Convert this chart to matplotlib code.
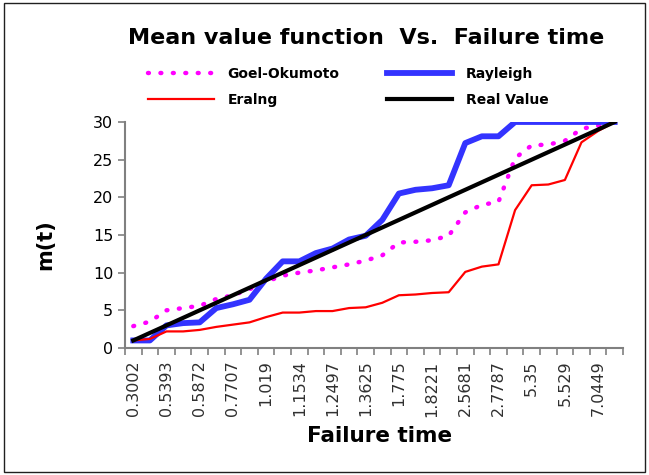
import matplotlib
matplotlib.use('Agg')
import matplotlib.pyplot as plt
from matplotlib.patches import Rectangle

failure_time = ['0.3002', '', '0.5393', '', '0.5872', '', '0.7707', '', '1.019', '',
                '1.1534', '', '1.2497', '', '1.3625', '', '1.775', '', '1.8221', '',
                '2.5681', '', '2.7787', '', '5.35', '', '5.529', '', '7.0449', '']

goel_okumoto = [2.9, 3.5, 5.0, 5.3, 5.6, 6.5, 7.0, 7.8, 8.8, 9.6,
                10.0, 10.3, 10.7, 11.1, 11.6, 12.3, 14.0, 14.1, 14.3, 14.9,
                18.0, 19.0, 19.4, 25.2, 26.9, 27.0, 27.5, 29.1, 29.5, 30.0]
rayleigh = [1.0, 1.0, 3.0, 3.3, 3.4, 5.3, 5.8, 6.4, 9.2, 11.5,
            11.5, 12.6, 13.2, 14.4, 14.9, 17.0, 20.5, 21.0, 21.2, 21.6,
            27.2, 28.1, 28.1, 30.0, 30.0, 30.0, 30.0, 30.0, 30.0, 30.0]
eraing = [1.0, 1.2, 2.2, 2.2, 2.4, 2.8, 3.1, 3.4, 4.1, 4.7,
          4.7, 4.9, 4.9, 5.3, 5.4, 6.0, 7.0, 7.1, 7.3, 7.4,
          10.1, 10.8, 11.1, 18.3, 21.6, 21.7, 22.3, 27.3, 28.8, 30.0]
real_value = list(range(1, 31))

fig = plt.figure(figsize=(6.49, 4.75), dpi=100)
fig.patches.append(Rectangle((0.006, 0.006), 0.988, 0.988, transform=fig.transFigure,
                             fill=False, edgecolor='#202020', linewidth=1))

ax = fig.add_axes([0.1926, 0.2674, 0.7673, 0.4758])
x = list(range(len(real_value)))

l_go, = ax.plot(x, goel_okumoto, color='#ff00ff', linewidth=3.2,
                linestyle=(0, (0.2, 2.6)), dash_capstyle='round', label='Goel-Okumoto')
l_ra, = ax.plot(x, rayleigh, color='#3333ff', linewidth=4.2, label='Rayleigh')
l_er, = ax.plot(x, eraing, color='#ff0000', linewidth=1.6, label='Eralng')
l_rv, = ax.plot(x, real_value, color='black', linewidth=3.0, label='Real Value')

ax.set_xlim(-0.5, len(x) - 0.5)
ax.set_ylim(0, 30)
ax.set_yticks(range(0, 31, 5))
ax.tick_params(axis='y', labelsize=11.5, length=5, color='#808080', width=1.2)

# labels on categories, tick marks between them
ax.set_xticks(x)
ax.set_xticklabels(failure_time, rotation=90, fontsize=11.5, color='#303030')
ax.tick_params(axis='x', which='major', length=0, pad=9)
ax.set_xticks([i - 0.5 for i in range(len(x) + 1)], minor=True)
ax.tick_params(axis='x', which='minor', length=5, color='#808080', width=1.2)

for side in ['top', 'right']:
    ax.spines[side].set_visible(False)
for side in ['left', 'bottom']:
    ax.spines[side].set_color('#808080')
    ax.spines[side].set_linewidth(1.5)

fig.text(0.564, 0.92, 'Mean value function  Vs.  Failure time', ha='center', va='center',
         fontsize=16, fontweight='bold')
fig.text(0.069, 0.484, 'm(t)', rotation=90, ha='center', va='center',
         fontsize=15, fontweight='bold')
fig.text(0.585, 0.082, 'Failure time', ha='center', va='center',
         fontsize=15.5, fontweight='bold')

fig.legend(handles=[l_go, l_er, l_ra, l_rv], ncol=2, loc='center',
           bbox_to_anchor=(0.537, 0.817), frameon=False,
           prop={'weight': 'bold', 'size': 10}, handlelength=4.7,
           handletextpad=1.0, columnspacing=3.4, labelspacing=0.85)

fig.savefig('out.png', dpi=100)
